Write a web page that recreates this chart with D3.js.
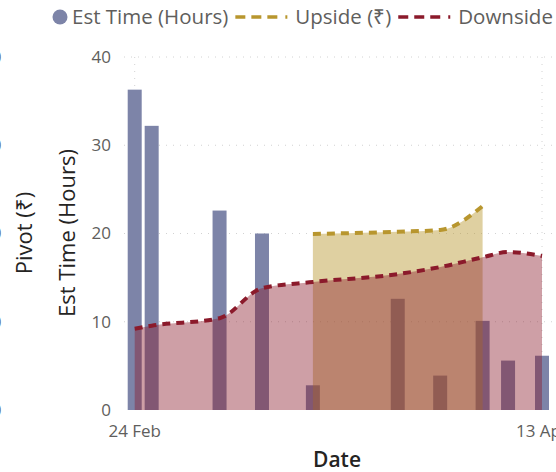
<!DOCTYPE html>
<html>
<head>
<meta charset="utf-8">
<script src="https://cdn.jsdelivr.net/npm/d3@7"></script>
<style>
  body { margin: 0; background: #fff; }
  svg { font-family: "Open Sans", "Segoe UI", sans-serif; }
</style>
</head>
<body>
<svg id="chart"></svg>
<script>
const width = 556;
const height = 472;

// data
const dates = ["2023-02-24", "2023-02-26", "2023-03-06", "2023-03-11", "2023-03-17",
               "2023-03-27", "2023-04-01", "2023-04-06", "2023-04-09", "2023-04-13"];
const estHours = [36.3, 32.2, 22.6, 20.0, 2.8, 12.6, 3.9, 10.1, 5.6, 6.15];
const downside = [9.2, 9.55, 10.4, 13.8, 14.5, 15.4, 16.2, 17.3, 17.9, 17.45];
const upsideDates = ["2023-03-17", "2023-03-27", "2023-04-01", "2023-04-06"];
const upside = [19.95, 20.2, 20.4, 23.1];
const yTicks = [0, 10, 20, 30, 40];
const xTicks = ["2023-02-24", "2023-04-13"];

const parse = d3.utcParse("%Y-%m-%d");
const fmt = d3.utcFormat("%-d %b");

const svg = d3.select("#chart")
    .attr("width", width)
    .attr("height", height);

const x = d3.scaleUtc()
    .domain([parse(dates[0]), parse(dates[dates.length - 1])])
    .range([134.7, 542]);

const y = d3.scaleLinear()
    .domain([0, 40])
    .range([410, 57]);

const barW = 14;

// gridlines
const grid = svg.append("g");
grid.selectAll("line.h")
    .data(yTicks.slice(1))
    .enter().append("line")
    .attr("x1", 124).attr("x2", width)
    .attr("y1", d => y(d)).attr("y2", d => y(d))
    .attr("stroke", "#d2d2d2")
    .attr("stroke-width", 1)
    .attr("stroke-dasharray", "1,6");
grid.selectAll("line.v")
    .data(xTicks)
    .enter().append("line")
    .attr("x1", d => x(parse(d))).attr("x2", d => x(parse(d)))
    .attr("y1", y(40)).attr("y2", y(0))
    .attr("stroke", "#d2d2d2")
    .attr("stroke-width", 1)
    .attr("stroke-dasharray", "1,6");

// bars
svg.append("g")
    .selectAll("rect")
    .data(dates)
    .enter().append("rect")
    .attr("x", d => x(parse(d)) - barW / 2)
    .attr("width", barW)
    .attr("y", (d, i) => y(estHours[i]))
    .attr("height", (d, i) => y(0) - y(estHours[i]))
    .attr("fill", "#7d84a8");

const upPts = upsideDates.map((d, i) => [parse(d), upside[i]]);
const downPts = dates.map((d, i) => [parse(d), downside[i]]);

const area = d3.area()
    .x(d => x(d[0]))
    .y0(y(0))
    .y1(d => y(d[1]))
    .curve(d3.curveMonotoneX);
const line = d3.line()
    .x(d => x(d[0]))
    .y(d => y(d[1]))
    .curve(d3.curveMonotoneX);

const gold = "#b8962e";
const red = "#8b1a2b";

svg.append("path").datum(upPts)
    .attr("d", area)
    .attr("fill", gold).attr("fill-opacity", 0.45);
svg.append("path").datum(downPts)
    .attr("d", area)
    .attr("fill", red).attr("fill-opacity", 0.42);

svg.append("path").datum(upPts)
    .attr("d", line)
    .attr("fill", "none")
    .attr("stroke", gold).attr("stroke-width", 4)
    .attr("stroke-dasharray", "8,6");
svg.append("path").datum(downPts)
    .attr("d", line)
    .attr("fill", "none")
    .attr("stroke", red).attr("stroke-width", 4)
    .attr("stroke-dasharray", "8,6");

// y axis labels
svg.append("g")
    .selectAll("text")
    .data(yTicks)
    .enter().append("text")
    .attr("x", 111)
    .attr("y", d => y(d))
    .attr("dy", "0.35em")
    .attr("text-anchor", "end")
    .attr("font-size", 17)
    .attr("fill", "#605e5c")
    .text(d => d);

// secondary (Pivot) axis, mostly cut off at the left edge
svg.append("g")
    .selectAll("text")
    .data(yTicks)
    .enter().append("text")
    .attr("x", 1.5)
    .attr("y", d => y(d))
    .attr("dy", "0.35em")
    .attr("text-anchor", "end")
    .attr("font-size", 17)
    .attr("fill", "#605e5c")
    .text(d => d);

// x axis labels
svg.append("g")
    .selectAll("text")
    .data(xTicks)
    .enter().append("text")
    .attr("x", d => x(parse(d)))
    .attr("y", 437)
    .attr("text-anchor", "middle")
    .attr("font-size", 17)
    .attr("fill", "#605e5c")
    .text(d => fmt(parse(d)));

// axis titles
svg.append("text")
    .attr("x", 337).attr("y", 467)
    .attr("text-anchor", "middle")
    .attr("font-size", 21)
    .attr("font-weight", 600)
    .attr("fill", "#252423")
    .text("Date");
svg.append("text")
    .attr("transform", "translate(67,233) rotate(-90)")
    .attr("text-anchor", "middle")
    .attr("dy", "0.35em")
    .attr("font-size", 22)
    .attr("fill", "#252423")
    .text("Est Time (Hours)");
svg.append("text")
    .attr("transform", "translate(24,233) rotate(-90)")
    .attr("text-anchor", "middle")
    .attr("dy", "0.35em")
    .attr("font-size", 22)
    .attr("fill", "#252423")
    .text("Pivot (₹)");

// legend, laid out left to right
const lg = svg.append("g").attr("font-size", 20.5).attr("fill", "#605e5c");
const ly = 17;
lg.append("circle").attr("cx", 60).attr("cy", ly).attr("r", 7.5).attr("fill", "#7d84a8");
let lx = 72;
const legendItems = [
    { label: "Est Time (Hours)", color: null },
    { label: "Upside (₹)", color: gold },
    { label: "Downside (₹)", color: red }
];
legendItems.forEach((it, i) => {
    if (it.color) {
        lg.append("line")
            .attr("x1", lx).attr("x2", lx + 53).attr("y1", ly).attr("y2", ly)
            .attr("stroke", it.color).attr("stroke-width", 3.5)
            .attr("stroke-dasharray", "10,6,10,6,10,8,2,40");
        lx += 60;
    }
    const t = lg.append("text").attr("x", lx).attr("y", ly).attr("dy", "0.35em").text(it.label);
    lx += t.node().getComputedTextLength() + 7;
});
</script>
</body>
</html>
